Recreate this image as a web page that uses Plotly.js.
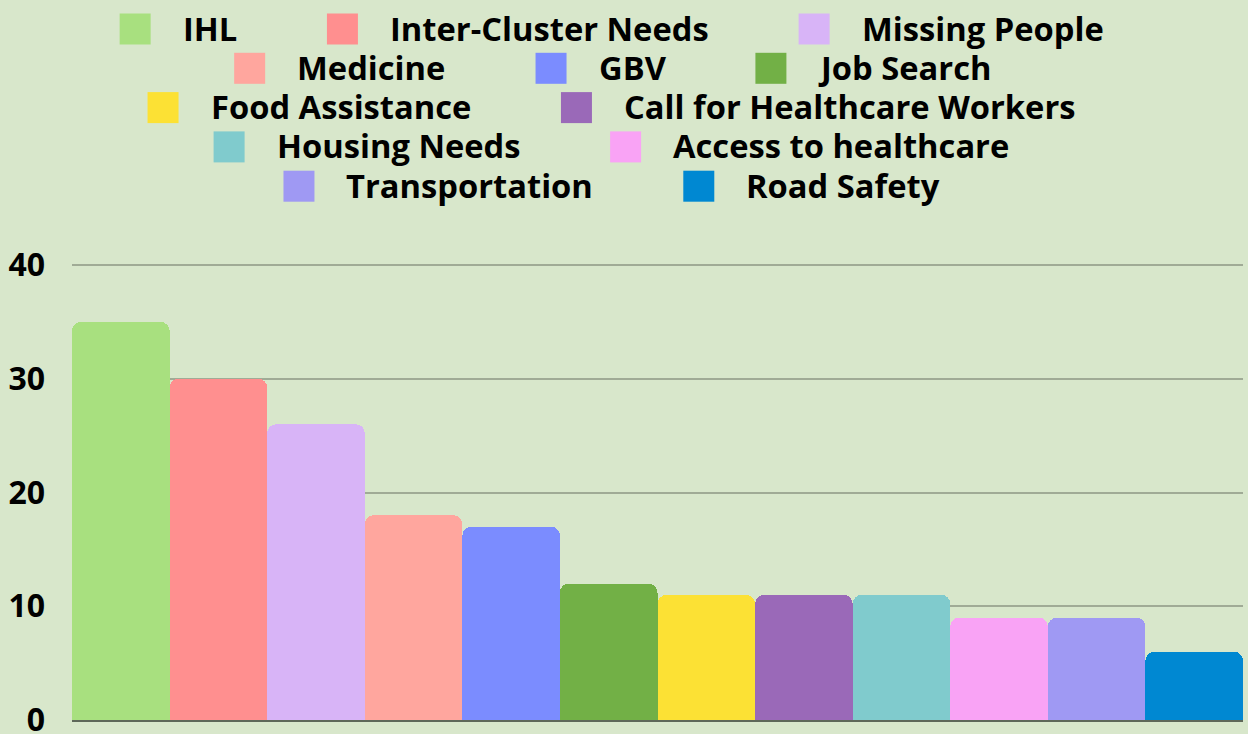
<!DOCTYPE html>
<html>
<head>
<meta charset="utf-8">
<script src="https://cdn.plot.ly/plotly-3.0.1.min.js"></script>
<style>html,body{margin:0;padding:0;background:#d8e7cb;}#chart{width:1248px;height:734px;}</style>
</head>
<body>
<div id="chart"></div>
<script>
const categories = ["IHL", "Inter-Cluster Needs", "Missing People", "Medicine", "GBV", "Job Search",
  "Food Assistance", "Call for Healthcare Workers", "Housing Needs", "Access to healthcare",
  "Transportation", "Road Safety"];
const counts = [35, 30, 26, 18, 17, 12, 11, 11, 11, 9, 9, 6];
const colors = ["#a8e07f", "#ff8f8f", "#d8b4f7", "#ffa69e", "#7b8cff", "#72b046",
  "#fce134", "#9a69b8", "#80cbcd", "#f9a3f5", "#9f99f3", "#0088d2"];
const yTicks = [0, 10, 20, 30, 40];

const W = 1248, H = 734;
const M = {l: 72, r: 5, t: 260, b: 14};
const PW = W - M.l - M.r, PH = H - M.t - M.b;
const Y_MAX = 40.44;
const FONT = "Open Sans";
const FS = 32.7;
const BG = "#d8e7cb";

// legend geometry (pixels)
const SW = 31, SW_GAP = 31, ITEM_GAP = 91, ROW_H = 39.3, ROW0 = 29, CENTER = 611, MAXW = 1120;

const ctx = document.createElement("canvas").getContext("2d");
ctx.font = "bold " + FS + "px '" + FONT + "'";
const tw = categories.map(c => ctx.measureText(c).width);

// greedy wrap into rows
const rows = [];
let cur = [], curW = 0;
categories.forEach((c, i) => {
  const w = SW + SW_GAP + tw[i];
  const add = cur.length ? ITEM_GAP + w : w;
  if (cur.length && curW + add > MAXW) { rows.push({items: cur, w: curW}); cur = [i]; curW = w; }
  else { cur.push(i); curW += add; }
});
if (cur.length) rows.push({items: cur, w: curW});

const px = x => (x - M.l) / PW;
const py = y => (H - M.b - y) / PH;

const shapes = [], annotations = [];
rows.forEach((r, ri) => {
  const cy = ROW0 + ri * ROW_H;
  let x = CENTER - r.w / 2;
  r.items.forEach(i => {
    shapes.push({type: "rect", xref: "paper", yref: "paper",
      x0: px(x), x1: px(x + SW), y0: py(cy + SW / 2), y1: py(cy - SW / 2),
      fillcolor: colors[i], line: {width: 0}, layer: "above"});
    annotations.push({xref: "paper", yref: "paper", x: px(x + SW + SW_GAP), y: py(cy - 1),
      xanchor: "left", yanchor: "middle", showarrow: false, text: categories[i],
      borderpad: 0,
      font: {family: FONT, size: FS, weight: 700, color: "#000"}});
    x += SW + SW_GAP + tw[i] + ITEM_GAP;
  });
});

const trace = {
  type: "bar", x: categories, y: counts,
  marker: {color: colors, cornerradius: 9, line: {width: 0}},
  showlegend: false, hoverinfo: "x+y"
};

const layout = {
  width: W, height: H, margin: M,
  paper_bgcolor: BG, plot_bgcolor: BG,
  bargap: 0, showlegend: false,
  font: {family: FONT, size: FS, color: "#000", weight: 700},
  xaxis: {showticklabels: false, ticks: "", showgrid: false, zeroline: false,
    showline: false, fixedrange: true},
  yaxis: {range: [0, Y_MAX], tickvals: yTicks, ticktext: yTicks.map(String),
    showgrid: true, gridcolor: "#a0ab96", gridwidth: 2,
    zeroline: true, zerolinecolor: "#5e6859", zerolinewidth: 3,
    showline: false, ticks: "", ticklabelstandoff: 26, ticklabeloverflow: "allow",
    tickfont: {family: FONT, size: 32, weight: 700, color: "#000"}},
  shapes: shapes, annotations: annotations
};

Plotly.newPlot("chart", [trace], layout, {displayModeBar: false, staticPlot: true});
</script>
</body>
</html>
